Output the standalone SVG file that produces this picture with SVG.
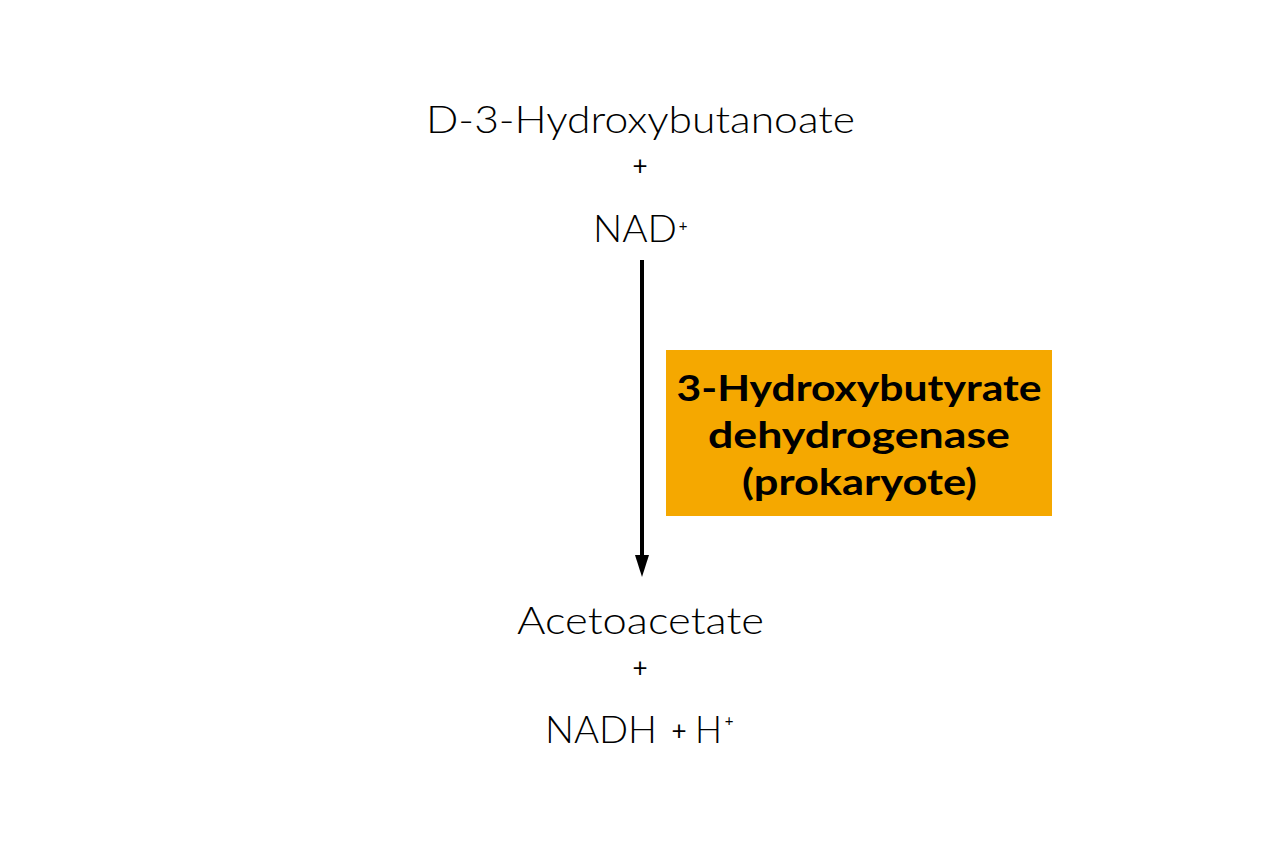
<svg xmlns="http://www.w3.org/2000/svg" width="1280" height="853" viewBox="0 0 1280 853">
<style>
.t{font-family:Lato,"Open Sans","Liberation Sans",sans-serif;font-weight:300;font-size:38px;fill:#000;text-anchor:middle}
.s{font-family:Lato,"Open Sans","Liberation Sans",sans-serif;font-weight:300;font-size:38px;fill:#000;text-anchor:start}
.p{font-family:Lato,"Open Sans","Liberation Sans",sans-serif;font-weight:400;font-size:26px;fill:#000;text-anchor:middle}
.sup{font-family:Lato,"Open Sans","Liberation Sans",sans-serif;font-weight:400;font-size:15px;fill:#000;text-anchor:middle}
.e{font-family:Lato,"Open Sans","Liberation Sans",sans-serif;font-weight:700;font-size:37px;fill:#000;text-anchor:middle}
</style>
<defs>
<marker id="ah" markerUnits="userSpaceOnUse" markerWidth="24" markerHeight="16" refX="4" refY="8" orient="auto" viewBox="0 0 24 16">
<path d="M0,1 L22,8 L0,15 Z" fill="#000"/>
</marker>
</defs>
<rect width="1280" height="853" fill="#fff"/>
<g id="substrates">
<text class="t" x="640.5" y="133" textLength="429" lengthAdjust="spacingAndGlyphs">D-3-Hydroxybutanoate</text>
<text class="p" x="640" y="175">+</text>
<text class="s" x="593" y="242" textLength="84" lengthAdjust="spacingAndGlyphs">NAD</text>
<text class="sup" x="683" y="231">+</text>
</g>
<g id="connectors">
<line x1="642" y1="260" x2="642" y2="559" stroke="#000" stroke-width="4" marker-end="url(#ah)"/>
</g>
<g id="enzyme">
<rect x="666" y="350" width="386" height="166" fill="#F5A800"/>
<text class="e" x="859" y="401" textLength="365" lengthAdjust="spacingAndGlyphs">3-Hydroxybutyrate</text>
<text class="e" x="859" y="448" textLength="302" lengthAdjust="spacingAndGlyphs">dehydrogenase</text>
<text class="e" x="859.5" y="495" textLength="235" lengthAdjust="spacingAndGlyphs">(prokaryote)</text>
</g>
<g id="products">
<text class="t" x="640.5" y="634" textLength="247" lengthAdjust="spacingAndGlyphs">Acetoacetate</text>
<text class="p" x="640" y="677">+</text>
<text class="s" x="545" y="743" textLength="112" lengthAdjust="spacingAndGlyphs">NADH</text>
<text class="p" x="679" y="740">+</text>
<text class="s" x="695" y="743" textLength="27" lengthAdjust="spacingAndGlyphs">H</text>
<text class="sup" x="729" y="726">+</text>
</g>
</svg>
